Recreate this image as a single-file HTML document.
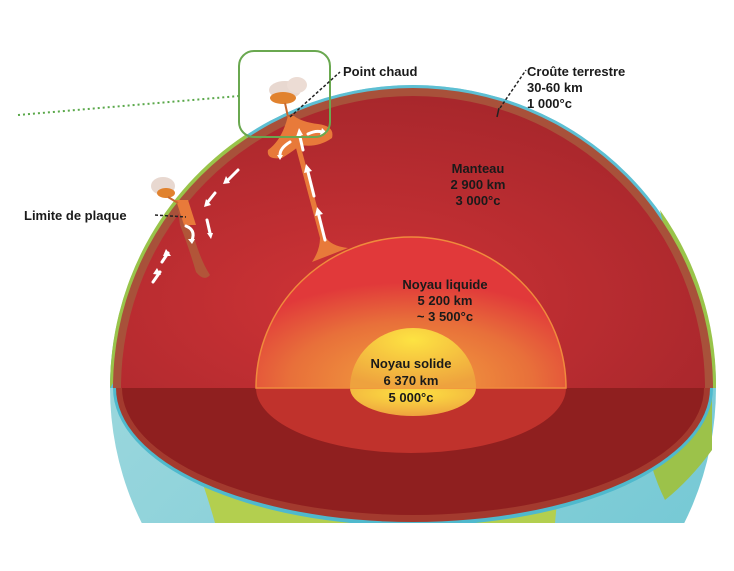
<!DOCTYPE html>
<html><head><meta charset="utf-8"><style>
html,body{margin:0;padding:0;background:#fff;width:734px;height:571px;overflow:hidden;}
svg{display:block}
text{font-family:"Liberation Sans",sans-serif;font-weight:bold;fill:#1a1a1a;font-size:13px}
</style></head><body>
<svg width="734" height="571" viewBox="0 0 734 571">
<defs>
<radialGradient id="man" cx="0.4" cy="0.7" r="0.7"><stop offset="0" stop-color="#cf3336"/><stop offset="1" stop-color="#a8272c"/></radialGradient>
<radialGradient id="liq" cx="0.5" cy="0.95" r="0.65"><stop offset="0" stop-color="#f3a23e"/><stop offset="0.6" stop-color="#e8703a"/><stop offset="1" stop-color="#e1393a"/></radialGradient>
<radialGradient id="sol" cx="0.5" cy="0.2" r="0.8"><stop offset="0" stop-color="#fde342"/><stop offset="1" stop-color="#eea23e"/></radialGradient>
<linearGradient id="sea" x1="0" y1="0" x2="1" y2="1"><stop offset="0" stop-color="#a8dce0"/><stop offset="1" stop-color="#6ec6d3"/></linearGradient>
<clipPath id="cl"><rect x="0" y="0" width="734" height="523"/></clipPath>
</defs>
<g clip-path="url(#cl)">
<circle cx="413" cy="388" r="303" fill="url(#sea)"/>
<path d="M185 440 Q200 470 215 523 L350 523 Q330 480 300 465 Q250 450 185 440Z" fill="#b3cf4f"/>
<path d="M440 500 Q520 490 560 470 L555 523 L440 523Z" fill="#b3cf4f"/>
<path d="M640 420 Q690 400 712 380 L712 450 Q690 480 665 500 Q650 470 640 420Z" fill="#9cc24a"/>
<path d="M110 388 A303 303 0 0 1 716 388Z" fill="#5dbfd3"/>
<path d="M110 388 A303 303 0 0 1 245 135 L260 150 Z" fill="#99c44a"/>
<path d="M660 210 A303 303 0 0 1 716 388 L700 388Z" fill="#99c44a"/>
<path d="M113 388 A300 300 0 0 1 713 388Z" fill="#a8513a"/>
<path d="M121 388 A292 292 0 0 1 705 388Z" fill="url(#man)"/>
<path d="M113 388 L713 388 A300 138 0 0 1 113 388Z" fill="#4fb9cd"/>
<path d="M116 388 L710 388 A297 134 0 0 1 116 388Z" fill="#a33a2e"/>
<path d="M122 388 L704 388 A291 127 0 0 1 122 388Z" fill="#8f1f1f"/>
<path d="M256 388 L566 388 A155 65 0 0 1 256 388Z" fill="#c0322c"/>
<path d="M350 388 L476 388 A63 28 0 0 1 350 388Z" fill="url(#sol)"/>
<!-- plume -->
<path d="M288 118 L293 118 L325 236 Q330 246 348 248 L312 262 Q320 250 320 238 Z" fill="#e87a3a"/>
<path d="M256 388 A155 151 0 0 1 566 388Z" fill="url(#liq)" stroke="#f08a3c" stroke-width="1.5"/>
<path d="M350 388 A63 60 0 0 1 476 388Z" fill="url(#sol)"/>
<path d="M288 116 Q282 140 268 150 Q266 160 282 158 Q295 150 300 145 Q318 148 332 138 Q335 126 318 124 Q302 122 294 116Z" fill="#e87a3a"/>
<path d="M178 210 Q188 220 192 230 Q200 260 210 275 Q204 282 196 272 Q188 245 180 225Z" fill="#b05a3a" opacity="0.9"/>
<path d="M176 200 L188 200 L196 225 L184 225Z" fill="#e87a3a"/>
<g stroke="#fff" stroke-width="3" fill="none" stroke-linecap="round">
<line x1="325" y1="240" x2="319" y2="216"/><line x1="314" y1="196" x2="308" y2="172"/><line x1="303" y1="150" x2="300" y2="137"/>
<path d="M308 134 Q316 130 322 132"/><path d="M290 142 Q280 148 280 155"/>
<line x1="238" y1="170" x2="228" y2="180"/><line x1="215" y1="193" x2="207" y2="203"/>
<line x1="207" y1="220" x2="210" y2="233"/><path d="M186 226 Q196 230 192 240"/>
<line x1="168" y1="253" x2="162" y2="262"/><line x1="160" y1="272" x2="153" y2="282"/>
</g>
<g fill="#fff">
<path d="M315 216 l8 -2 l-6 -7z"/><path d="M304 173 l8 -2 l-6 -7z"/><path d="M296 137 l7 -2 l-4 -7z"/>
<path d="M322 128 l5 5 l-7 2z"/><path d="M277 155 l6 0 l-3 5z"/>
<path d="M226 176 l-3 8 l7 -1z"/><path d="M206 199 l-2 8 l7 -2z"/>
<path d="M207 233 l6 0 l-2 6z"/><path d="M188 239 l7 0 l-3 5z"/>
<path d="M166 249 l5 7 l-8 0z"/><path d="M157 268 l4 7 l-8 -1z"/>
</g>
</g>
<g>
<ellipse cx="285" cy="90" rx="16" ry="9" fill="#e8d8d0"/><ellipse cx="297" cy="85" rx="10" ry="8" fill="#ecdcd4"/>
<ellipse cx="283" cy="98" rx="13" ry="6" fill="#e1822e"/>
<line x1="285" y1="103" x2="288" y2="117" stroke="#c86a30" stroke-width="2"/>
<ellipse cx="163" cy="186" rx="12" ry="9" fill="#e8d8d0"/><ellipse cx="166" cy="193" rx="9" ry="5" fill="#e1822e"/>
<line x1="168" y1="197" x2="178" y2="203" stroke="#c86a30" stroke-width="2"/>
</g>
<rect x="239" y="51" width="91" height="86" rx="15" fill="none" stroke="#6aa850" stroke-width="2"/>
<line x1="18" y1="115" x2="239" y2="96" stroke="#5aa84a" stroke-width="2" stroke-dasharray="2,3"/>
<g stroke="#222" stroke-width="1.5" stroke-dasharray="3,2" fill="none">
<line x1="290" y1="117" x2="340" y2="72"/>
<line x1="155" y1="215" x2="186" y2="217"/>
<line x1="500" y1="108" x2="526" y2="70"/>
</g>
<line x1="499" y1="108" x2="497" y2="117" stroke="#222" stroke-width="1.5"/>
<text x="343" y="76">Point chaud</text>
<text x="527" y="76">Croûte terrestre</text>
<text x="527" y="92">30-60 km</text>
<text x="527" y="108">1 000°c</text>
<text x="24" y="220">Limite de plaque</text>
<g text-anchor="middle">
<text x="478" y="173">Manteau</text><text x="478" y="189">2 900 km</text><text x="478" y="205">3 000°c</text>
<text x="445" y="289">Noyau liquide</text><text x="445" y="305">5 200 km</text><text x="445" y="321">~ 3 500°c</text>
<text x="411" y="368">Noyau solide</text><text x="411" y="385">6 370 km</text><text x="411" y="402">5 000°c</text>
</g>
</svg>
</body></html>
